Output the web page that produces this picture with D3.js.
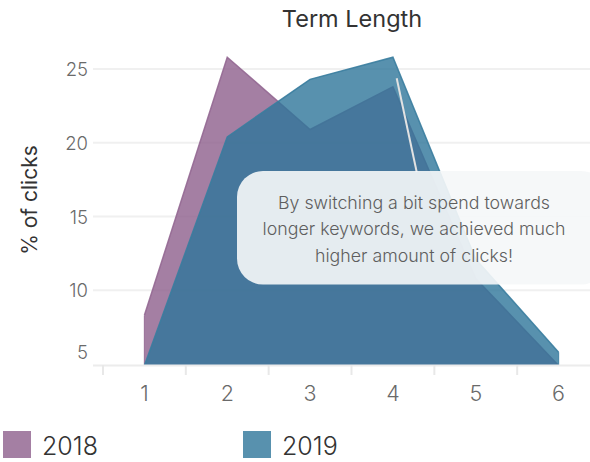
<!DOCTYPE html>
<html><head><meta charset="utf-8">
<script src="https://cdn.jsdelivr.net/npm/d3@7"></script>
<style>
html,body{margin:0;padding:0;background:#fff;}
svg{display:block;font-family:Inter,Lato,sans-serif;}
</style></head>
<body><svg id="chart" width="590" height="462"></svg>
<script>
const categories = [1, 2, 3, 4, 5, 6];
const values2018 = [8.3, 25.8, 20.9, 23.8, 10.8, 4.9];
const values2019 = [4.9, 20.4, 24.3, 25.8, 12.1, 5.8];
const yTicks = [5, 10, 15, 20, 25];
const seriesNames = ["2018", "2019"];
const seriesColors = ["#8d5f8c", "#2e769a"];
const strokeColors = ["#946892", "#3a7d9f"];
const titleText = "Term Length";
const yTitle = "% of clicks";
const noteLines = ["By switching a bit spend towards", "longer keywords, we achieved much", "higher amount of clicks!"];

const FONT = "Inter, Lato, sans-serif";
const svg = d3.select("#chart");
const x = d3.scaleBand().domain(categories).range([103, 600]);
const xc = d => x(d) + x.bandwidth() / 2;
const y = d3.scaleLinear().domain([4.9, 27]).range([365.5, 39.5]);

// gridlines
svg.append("g").selectAll("line").data(yTicks.filter(t => t > 5)).join("line")
  .attr("x1", 93).attr("x2", 590).attr("y1", d => y(d)).attr("y2", d => y(d))
  .attr("stroke", "#f0f0f0").attr("stroke-width", 2);

// areas
const series = [values2018, values2019];
series.forEach((vals, i) => {
  const pts = categories.map((c, j) => [c, vals[j]]);
  const area = d3.area().x(d => xc(d[0])).y0(y(4.9)).y1(d => y(d[1]));
  const line = d3.line().x(d => xc(d[0])).y(d => y(d[1]));
  svg.append("path").datum(pts).attr("d", area)
    .attr("fill", seriesColors[i]).attr("fill-opacity", 0.8);
  svg.append("path").datum(pts).attr("d", line)
    .attr("fill", "none").attr("stroke", strokeColors[i]).attr("stroke-width", 1.5).attr("stroke-opacity", 0.9);
  svg.append("line").attr("x1", xc(pts[0][0])).attr("x2", xc(pts[0][0]))
    .attr("y1", y(4.9)).attr("y2", y(pts[0][1]))
    .attr("stroke", strokeColors[i]).attr("stroke-width", 1.2).attr("stroke-opacity", 0.8);
  svg.append("line").attr("x1", xc(pts[5][0])).attr("x2", xc(pts[5][0]))
    .attr("y1", y(4.9)).attr("y2", y(pts[5][1]))
    .attr("stroke", strokeColors[i]).attr("stroke-width", 1.2).attr("stroke-opacity", 0.8);
});

// x axis
svg.append("line").attr("x1", 93).attr("x2", 590).attr("y1", 365.5).attr("y2", 365.5)
  .attr("stroke", "#ececec").attr("stroke-width", 2);
const xAxis = d3.axisBottom(x).tickSize(0).tickPadding(0);
const gx = svg.append("g").attr("transform", "translate(0,366)").call(xAxis);
gx.select(".domain").remove();
gx.selectAll("text").attr("y", 35).attr("dy", 0).attr("font-size", 21.5).attr("font-weight", 300)
  .attr("fill", "#6a6a6a").attr("font-family", FONT);
svg.append("g").selectAll("line").data(categories).join("line")
  .attr("x1", d => x(d)).attr("x2", d => x(d)).attr("y1", 365).attr("y2", 375)
  .attr("stroke", "#e8e8e8").attr("stroke-width", 2);

// y axis
const yAxis = d3.axisLeft(y).tickValues(yTicks).tickSize(0).tickPadding(0);
const gy = svg.append("g").attr("transform", "translate(88,0)").call(yAxis);
gy.select(".domain").remove();
gy.selectAll("text").attr("x", 0).attr("font-size", 18.5).attr("font-weight", 300)
  .attr("fill", "#6a6a6a").attr("font-family", FONT)
  .attr("dy", d => d === 5 ? "-0.3em" : "0.36em");

// titles
svg.append("text").attr("x", 352).attr("y", 27).attr("text-anchor", "middle")
  .attr("font-size", 23.5).attr("fill", "#333").text(titleText);
svg.append("text").attr("transform", "translate(37,200) rotate(-90)").attr("text-anchor", "middle")
  .attr("font-size", 21).attr("fill", "#333").text(yTitle);

// annotation pointer
svg.append("line").attr("x1", 396.7).attr("y1", 78.3).attr("x2", 416.7).attr("y2", 172)
  .attr("stroke", "#e2e2e2").attr("stroke-width", 2);
// annotation box
svg.append("rect").attr("x", 237).attr("y", 171).attr("width", 370).attr("height", 113.5)
  .attr("rx", 26).attr("ry", 26).attr("fill", "#f5f7f8").attr("fill-opacity", 0.91);
svg.append("g").selectAll("text").data(noteLines).join("text")
  .attr("x", 414).attr("y", (d, i) => 209 + i * 26.3).attr("text-anchor", "middle")
  .attr("font-size", 17.8).attr("font-weight", 300).attr("fill", "#5e5e5e").text(d => d);

// legend
const lg = svg.append("g").selectAll("g").data(seriesNames).join("g")
  .attr("transform", (d, i) => `translate(${3 + i * 240},431)`);
lg.append("rect").attr("width", 28).attr("height", 27)
  .attr("fill", (d, i) => seriesColors[i]).attr("fill-opacity", 0.8);
lg.append("text").attr("x", 39).attr("y", 24).attr("font-size", 25).attr("font-weight", 300).attr("fill", "#333").text(d => d);
</script></body></html>
